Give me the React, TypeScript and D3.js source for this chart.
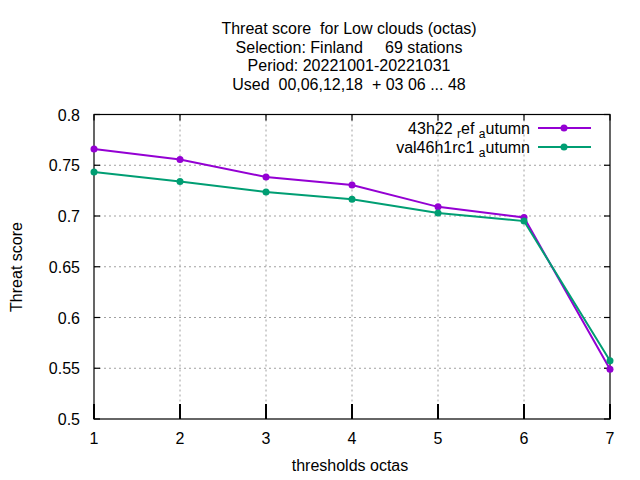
import React from "react";
import * as d3 from "d3";

const thresholds = [1, 2, 3, 4, 5, 6, 7];
const refValues = [0.766, 0.7557, 0.7384, 0.7305, 0.709, 0.6985, 0.549];
const valValues = [0.7433, 0.734, 0.7236, 0.7164, 0.703, 0.695, 0.5574];
const yTicks = [0.5, 0.55, 0.6, 0.65, 0.7, 0.75, 0.8];
const titleLines = [
  "Threat score  for Low clouds (octas)",
  "Selection: Finland     69 stations",
  "Period: 20221001-20221031",
  "Used  00,06,12,18  + 03 06 ... 48",
];

const W = 640, H = 480;
const L = 94, R = 610, T = 114.5, B = 419;
const FONT = "'Liberation Sans', Arial, sans-serif";
const PURPLE = "#9400d3";
const GREEN = "#009e73";

export default function App() {
  const x = d3.scaleLinear().domain([1, 7]).range([L, R]);
  const y = d3.scaleLinear().domain([0.5, 0.8]).range([B, T]);
  const line = d3
    .line<number>()
    .x((_, i) => x(thresholds[i]))
    .y((d) => y(d));

  const series = [
    { values: refValues, color: PURPLE },
    { values: valValues, color: GREEN },
  ];

  return (
    <svg
      width={W}
      height={H}
      style={{ position: "absolute", left: 0, top: 0, background: "#fff" }}
      fontFamily={FONT}
    >
      <rect x={0} y={0} width={W} height={H} fill="#fff" />
      {/* grid */}
      {thresholds.slice(1, -1).map((t) => (
        <line
          key={"gx" + t}
          x1={x(t)}
          x2={x(t)}
          y1={T}
          y2={B}
          stroke="#a0a0a0"
          strokeWidth={1}
          strokeDasharray="2,3"
        />
      ))}
      {yTicks.slice(1, -1).map((t) => (
        <line
          key={"gy" + t}
          x1={L}
          x2={R}
          y1={y(t)}
          y2={y(t)}
          stroke="#a0a0a0"
          strokeWidth={1}
          strokeDasharray="2,3"
        />
      ))}
      {/* ticks */}
      {thresholds.map((t) => (
        <g key={"tx" + t}>
          <line x1={x(t)} x2={x(t)} y1={B} y2={B - 15} stroke="#000" strokeWidth={2} />
          <line x1={x(t)} x2={x(t)} y1={T} y2={T + 6} stroke="#000" strokeWidth={1.2} />
          <text x={x(t)} y={444} textAnchor="middle" fontSize={16} fill="#000">
            {t}
          </text>
        </g>
      ))}
      {yTicks.map((t) => (
        <g key={"ty" + t}>
          <line x1={L} x2={L + 6} y1={y(t)} y2={y(t)} stroke="#000" strokeWidth={1.2} />
          <line x1={R} x2={R - 6} y1={y(t)} y2={y(t)} stroke="#000" strokeWidth={1.2} />
          <text x={80} y={y(t) + 6} textAnchor="end" fontSize={16} fill="#000">
            {String(t)}
          </text>
        </g>
      ))}
      {/* border */}
      <rect x={L} y={T} width={R - L} height={B - T} fill="none" stroke="#000" strokeWidth={1.2} />
      {/* series */}
      {series.map((s, si) => (
        <g key={"s" + si}>
          <path d={line(s.values) || ""} fill="none" stroke={s.color} strokeWidth={2} />
          {s.values.map((v, i) => (
            <circle key={i} cx={x(thresholds[i])} cy={y(v)} r={3.5} fill={s.color} />
          ))}
        </g>
      ))}
      {/* legend */}
      <g>
        <text x={530} y={134} textAnchor="end" fontSize={16} fill="#000">
          <tspan>43h22 </tspan>
          <tspan fontSize={12} dy={4}>r</tspan>
          <tspan dy={-4}>ef </tspan>
          <tspan fontSize={12} dy={4}>a</tspan>
          <tspan dy={-4}>utumn</tspan>
        </text>
        <line x1={538} x2={591} y1={128} y2={128} stroke={PURPLE} strokeWidth={2} />
        <circle cx={564} cy={128} r={3.5} fill={PURPLE} />
        <text x={530} y={153} textAnchor="end" fontSize={16} fill="#000">
          <tspan>val46h1rc1 </tspan>
          <tspan fontSize={12} dy={4}>a</tspan>
          <tspan dy={-4}>utumn</tspan>
        </text>
        <line x1={538} x2={591} y1={147} y2={147} stroke={GREEN} strokeWidth={2} />
        <circle cx={564} cy={147} r={3.5} fill={GREEN} />
      </g>
      {/* title */}
      {titleLines.map((s, i) => (
        <text
          key={"t" + i}
          x={349}
          y={34 + i * 18.5}
          textAnchor="middle"
          fontSize={16}
          fill="#000"
          style={{ whiteSpace: "pre" }}
        >
          {s}
        </text>
      ))}
      {/* axis labels */}
      <text x={350} y={471} textAnchor="middle" fontSize={16} fill="#000">
        thresholds octas
      </text>
      <text
        transform="translate(22,267) rotate(-90)"
        textAnchor="middle"
        fontSize={16}
        fill="#000"
      >
        Threat score
      </text>
    </svg>
  );
}
